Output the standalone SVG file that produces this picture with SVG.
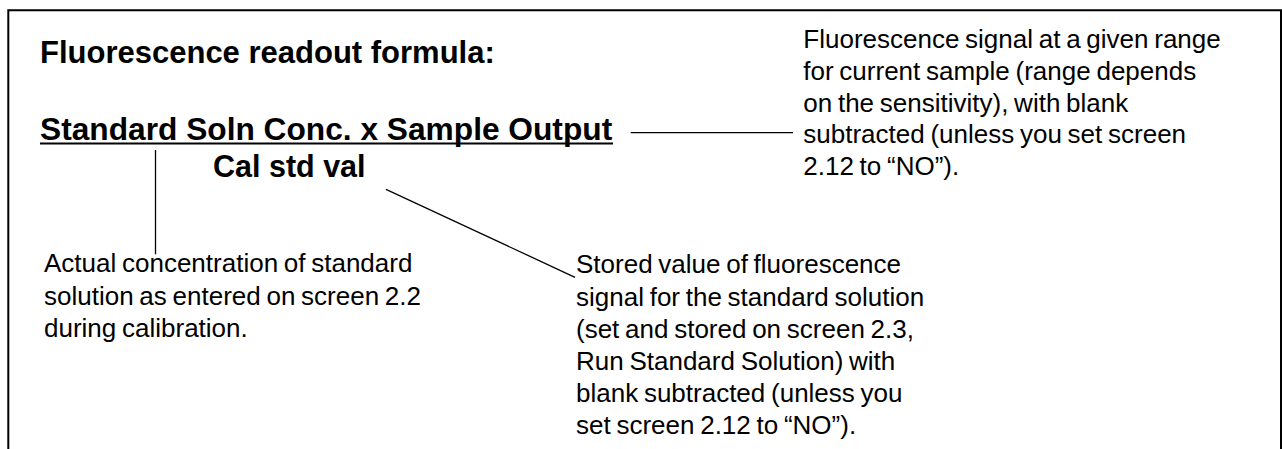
<svg xmlns="http://www.w3.org/2000/svg" width="1282" height="449" viewBox="0 0 1282 449">
<style>
.b{font-family:"Liberation Sans",Arial,sans-serif;font-weight:bold;fill:#000}
.t{font-family:"Liberation Sans",Arial,sans-serif;font-size:26px;word-spacing:-1.5px;fill:#000}
.ln{stroke:#000;stroke-width:1.3;fill:none}
</style>
<rect width="1282" height="449" fill="#fff"/>
<path d="M8.3 449 V10.3 H1281 V449" fill="none" stroke="#000" stroke-width="2"/>
<g id="title"><text class="b" x="40" y="63.3" font-size="31">Fluorescence readout formula:</text></g>
<g id="formula">
<text class="b" x="40" y="140" font-size="31.7">Standard Soln Conc. x Sample Output</text>
<line x1="40" y1="143.5" x2="613" y2="143.5" stroke="#000" stroke-width="2"/>
<text class="b" x="213" y="177.3" font-size="30.5">Cal std val</text>
</g>
<g id="note-sample">
<text class="t" x="803.3"><tspan x="803.3" y="48.3">Fluorescence signal at a given range</tspan><tspan x="803.3" y="80">for current sample (range depends</tspan><tspan x="803.3" y="111.7">on the sensitivity), with blank</tspan><tspan x="803.3" y="143.3">subtracted (unless you set screen</tspan><tspan x="803.3" y="175">2.12 to “NO”).</tspan></text>
</g>
<g id="note-standard">
<text class="t" x="44"><tspan x="44" y="272.3">Actual concentration of standard</tspan><tspan x="44" y="304.5">solution as entered on screen 2.2</tspan><tspan x="44" y="336.7">during calibration.</tspan></text>
</g>
<g id="note-cal">
<text class="t" x="576"><tspan x="576" y="273.3">Stored value of fluorescence</tspan><tspan x="576" y="305.5">signal for the standard solution</tspan><tspan x="576" y="337.7">(set and stored on screen 2.3,</tspan><tspan x="576" y="369.9">Run Standard Solution) with</tspan><tspan x="576" y="402.1">blank subtracted (unless you</tspan><tspan x="576" y="434.3">set screen 2.12 to “NO”).</tspan></text>
</g>
<g id="connectors">
<line class="ln" x1="630.7" y1="132.7" x2="793" y2="132.7"/>
<line class="ln" x1="155.5" y1="150" x2="155.5" y2="254.3"/>
<line class="ln" x1="386" y1="189.3" x2="575" y2="277.3"/>
</g>
</svg>
